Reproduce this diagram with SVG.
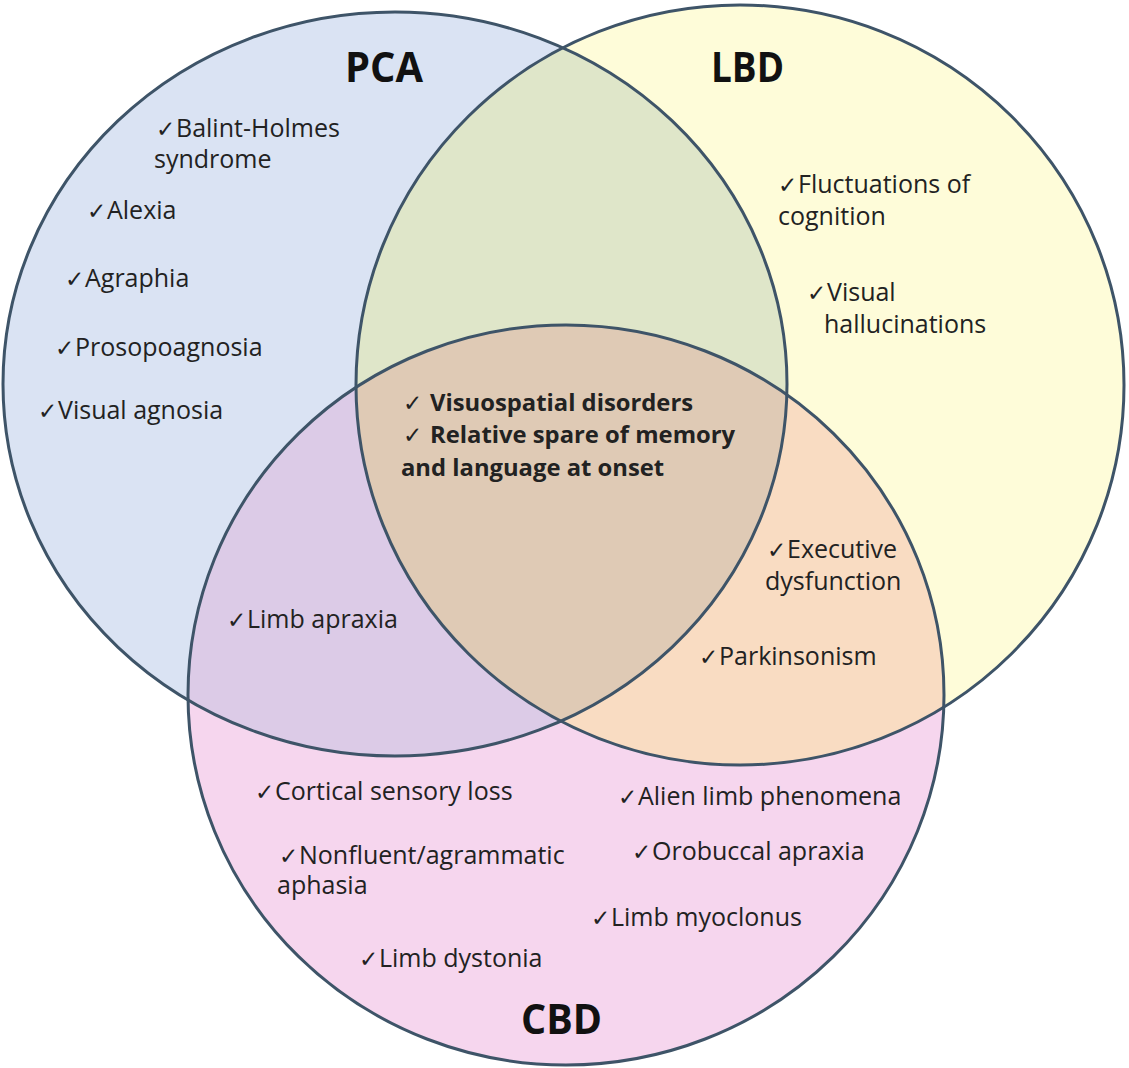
<svg xmlns="http://www.w3.org/2000/svg" xmlns:xlink="http://www.w3.org/1999/xlink" width="1129" height="1068" viewBox="0 0 1129 1068">
<style>
.outline{fill:none;stroke:#3e5468;stroke-width:3}
.t{font-family:"Open Sans","Liberation Sans",sans-serif;font-size:25px;fill:#222}
.b{font-family:"Open Sans","Liberation Sans",sans-serif;font-size:23.8px;font-weight:bold;fill:#222}
.title{font-family:"Open Sans","Liberation Sans",sans-serif;font-size:41px;font-weight:bold;fill:#111}
.ck{font-family:"DejaVu Sans",sans-serif;font-size:23px;font-weight:bold}
</style>
<defs>
<ellipse id="e-pca" cx="395" cy="384" rx="392" ry="372"/>
<ellipse id="e-lbd" cx="740" cy="385" rx="384" ry="380"/>
<ellipse id="e-cbd" cx="566" cy="695" rx="378" ry="370"/>
<clipPath id="cp-pca"><use xlink:href="#e-pca"/></clipPath>
<clipPath id="cp-lbd"><use xlink:href="#e-lbd"/></clipPath>
</defs>
<rect width="1129" height="1068" fill="#ffffff"/>
<g id="fills">
<use xlink:href="#e-pca" fill="#dae3f3"/>
<use xlink:href="#e-lbd" fill="#fefcd9"/>
<use xlink:href="#e-cbd" fill="#f6d6ee"/>
<use xlink:href="#e-lbd" fill="#dfe6c9" clip-path="url(#cp-pca)"/>
<use xlink:href="#e-cbd" fill="#dccbe7" clip-path="url(#cp-pca)"/>
<use xlink:href="#e-cbd" fill="#f9dcc2" clip-path="url(#cp-lbd)"/>
<g clip-path="url(#cp-lbd)"><use xlink:href="#e-cbd" fill="#dfcab5" clip-path="url(#cp-pca)"/></g>
</g>
<g id="PCA">
<use xlink:href="#e-pca" class="outline"/>
<text class="title" x="345" y="82" textLength="78" lengthAdjust="spacingAndGlyphs">PCA</text>
<text class="t"><tspan class="ck" x="156" y="137">✓</tspan><tspan x="176" y="137">Balint-Holmes</tspan><tspan x="154" y="168">syndrome</tspan></text>
<text class="t"><tspan class="ck" x="87" y="219">✓</tspan><tspan x="107" y="219">Alexia</tspan></text>
<text class="t"><tspan class="ck" x="65" y="287">✓</tspan><tspan x="85" y="287">Agraphia</tspan></text>
<text class="t"><tspan class="ck" x="55" y="356">✓</tspan><tspan x="75" y="356">Prosopoagnosia</tspan></text>
<text class="t"><tspan class="ck" x="38" y="419">✓</tspan><tspan x="58" y="419">Visual agnosia</tspan></text>
</g>
<g id="LBD">
<use xlink:href="#e-lbd" class="outline"/>
<text class="title" x="711" y="82" textLength="73" lengthAdjust="spacingAndGlyphs">LBD</text>
<text class="t"><tspan class="ck" x="778" y="193">✓</tspan><tspan x="798" y="193">Fluctuations of</tspan><tspan x="778" y="225">cognition</tspan></text>
<text class="t"><tspan class="ck" x="807" y="301">✓</tspan><tspan x="827" y="301">Visual</tspan><tspan x="824" y="333">hallucinations</tspan></text>
</g>
<g id="CBD">
<use xlink:href="#e-cbd" class="outline"/>
<text class="title" x="521" y="1034" textLength="81" lengthAdjust="spacingAndGlyphs">CBD</text>
<text class="t"><tspan class="ck" x="255" y="800">✓</tspan><tspan x="275" y="800">Cortical sensory loss</tspan></text>
<text class="t"><tspan class="ck" x="279" y="864">✓</tspan><tspan x="299" y="864">Nonfluent/agrammatic</tspan><tspan x="277" y="894">aphasia</tspan></text>
<text class="t"><tspan class="ck" x="359" y="967">✓</tspan><tspan x="379" y="967">Limb dystonia</tspan></text>
<text class="t"><tspan class="ck" x="618" y="805">✓</tspan><tspan x="638" y="805">Alien limb phenomena</tspan></text>
<text class="t"><tspan class="ck" x="632" y="860">✓</tspan><tspan x="652" y="860">Orobuccal apraxia</tspan></text>
<text class="t"><tspan class="ck" x="591" y="926">✓</tspan><tspan x="611" y="926">Limb myoclonus</tspan></text>
</g>
<g id="PCA-CBD">
<text class="t"><tspan class="ck" x="227" y="628">✓</tspan><tspan x="247" y="628">Limb apraxia</tspan></text>
</g>
<g id="LBD-CBD">
<text class="t"><tspan class="ck" x="767" y="558">✓</tspan><tspan x="787" y="558">Executive</tspan><tspan x="765" y="590">dysfunction</tspan></text>
<text class="t"><tspan class="ck" x="699" y="665">✓</tspan><tspan x="719" y="665">Parkinsonism</tspan></text>
</g>
<g id="PCA-LBD-CBD">
<text class="b"><tspan class="ck" x="403" y="411">✓</tspan><tspan x="430" y="411">Visuospatial disorders</tspan><tspan class="ck" x="403" y="443">✓</tspan><tspan x="430" y="443">Relative spare of memory</tspan><tspan x="401" y="476">and language at onset</tspan></text>
</g>
</svg>
